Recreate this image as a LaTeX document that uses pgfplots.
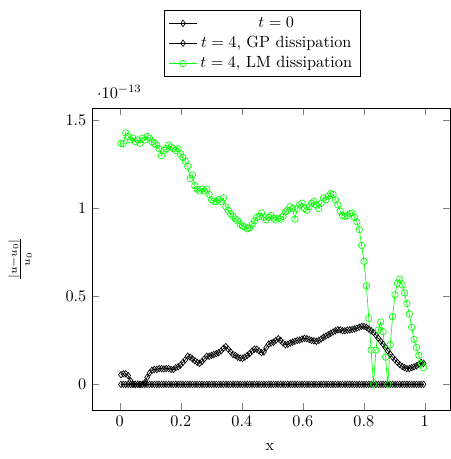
\documentclass[border=0pt]{standalone}
\usepackage{pgfplots}
\usepackage{pgfplotstable}
\pgfplotsset{compat=1.18}
\pgfplotstableread{
x y0 gp lm
0.0039 0 0.055 1.37
0.0117 0 0.060 1.37
0.0195 0 0.060 1.43
0.0273 0 0.050 1.41
0.0352 0 0.020 1.39
0.0430 0 0.000 1.40
0.0508 0 0.000 1.38
0.0586 0 0.000 1.39
0.0664 0 0.000 1.37
0.0742 0 0.000 1.40
0.0820 0 0.010 1.39
0.0898 0 0.040 1.41
0.0977 0 0.065 1.40
0.1055 0 0.080 1.38
0.1133 0 0.085 1.37
0.1211 0 0.085 1.36
0.1289 0 0.090 1.34
0.1367 0 0.090 1.30
0.1445 0 0.088 1.33
0.1523 0 0.090 1.34
0.1602 0 0.090 1.36
0.1680 0 0.085 1.35
0.1758 0 0.085 1.34
0.1836 0 0.095 1.33
0.1914 0 0.100 1.34
0.1992 0 0.110 1.31
0.2070 0 0.125 1.29
0.2148 0 0.140 1.27
0.2227 0 0.160 1.24
0.2305 0 0.155 1.17
0.2383 0 0.145 1.19
0.2461 0 0.135 1.13
0.2539 0 0.125 1.11
0.2617 0 0.120 1.10
0.2695 0 0.130 1.11
0.2773 0 0.145 1.10
0.2852 0 0.160 1.11
0.2930 0 0.160 1.08
0.3008 0 0.165 1.05
0.3086 0 0.170 1.04
0.3164 0 0.175 1.04
0.3242 0 0.180 1.05
0.3320 0 0.190 1.04
0.3398 0 0.205 1.06
0.3477 0 0.215 1.01
0.3555 0 0.200 0.99
0.3633 0 0.185 0.97
0.3711 0 0.170 0.955
0.3789 0 0.165 0.94
0.3867 0 0.155 0.93
0.3945 0 0.150 0.91
0.4023 0 0.148 0.90
0.4102 0 0.155 0.895
0.4180 0 0.165 0.885
0.4258 0 0.175 0.89
0.4336 0 0.190 0.91
0.4414 0 0.200 0.93
0.4492 0 0.200 0.95
0.4570 0 0.190 0.955
0.4648 0 0.180 0.975
0.4727 0 0.185 0.95
0.4805 0 0.210 0.935
0.4883 0 0.230 0.95
0.4961 0 0.235 0.96
0.5039 0 0.240 0.945
0.5117 0 0.250 0.935
0.5195 0 0.260 0.945
0.5273 0 0.250 0.94
0.5352 0 0.235 0.955
0.5430 0 0.225 0.98
0.5508 0 0.228 0.99
0.5586 0 0.235 1.01
0.5664 0 0.240 1.00
0.5742 0 0.245 0.94
0.5820 0 0.250 1.00
0.5898 0 0.252 1.02
0.5977 0 0.258 1.03
0.6055 0 0.262 1.00
0.6133 0 0.260 0.99
0.6211 0 0.255 1.01
0.6289 0 0.250 1.03
0.6367 0 0.248 1.04
0.6445 0 0.245 1.02
0.6523 0 0.250 1.00
0.6602 0 0.258 1.03
0.6680 0 0.268 1.06
0.6758 0 0.275 1.05
0.6836 0 0.282 1.07
0.6914 0 0.290 1.085
0.6992 0 0.298 1.08
0.7070 0 0.305 1.05
0.7148 0 0.310 1.02
0.7227 0 0.310 0.985
0.7305 0 0.305 0.96
0.7383 0 0.305 0.955
0.7461 0 0.308 0.96
0.7539 0 0.310 0.97
0.7617 0 0.312 0.975
0.7695 0 0.315 0.95
0.7773 0 0.320 0.925
0.7852 0 0.325 0.88
0.7930 0 0.330 0.79
0.8008 0 0.330 0.70
0.8086 0 0.325 0.56
0.8164 0 0.315 0.375
0.8242 0 0.305 0.195
0.8320 0 0.295 0.0
0.8398 0 0.280 0.195
0.8477 0 0.262 0.31
0.8555 0 0.245 0.355
0.8633 0 0.228 0.30
0.8711 0 0.210 0.155
0.8789 0 0.190 0.0
0.8867 0 0.172 0.225
0.8945 0 0.155 0.385
0.9023 0 0.140 0.51
0.9102 0 0.125 0.575
0.9180 0 0.112 0.598
0.9258 0 0.102 0.565
0.9336 0 0.095 0.52
0.9414 0 0.090 0.46
0.9492 0 0.090 0.40
0.9570 0 0.095 0.325
0.9648 0 0.100 0.255
0.9727 0 0.105 0.21
0.9805 0 0.115 0.165
0.9883 0 0.125 0.12
0.9961 0 0.120 0.095
}\datatable
\begin{document}
\begin{tikzpicture}
\begin{axis}[
  name=ax,
  scale only axis,
  width=221pt, height=186.4pt,
  xmin=-0.091, xmax=1.083,
  ymin=-0.146e-13, ymax=1.571e-13,
  xtick={0,0.2,0.4,0.6,0.8,1},
  ytick={0,0.5e-13,1e-13,1.5e-13},
  xlabel={x},
  ylabel={$\frac{|u-u_0|}{u_0}$},
  xlabel style={at={(axis description cs:0.497,0)}, anchor=center, yshift=-22.8pt},
  ylabel style={at={(axis description cs:-0.201,0.5)}, anchor=center},
  legend cell align=center,
  legend style={at={(axis description cs:0.475,1)}, anchor=south, yshift=19.1pt, draw=black, fill=white},
]
\addplot[black, mark=diamond] table[x=x, y expr=\thisrow{y0}*1e-13] {\datatable};
\addlegendentry{$t=0$}
\addplot[black, mark=diamond] table[x=x, y expr=\thisrow{gp}*1e-13] {\datatable};
\addlegendentry{$t=4$, GP dissipation}
\addplot[green, mark=o] table[x=x, y expr=\thisrow{lm}*1e-13] {\datatable};
\addlegendentry{$t=4$, LM dissipation}
\end{axis}
\path ([xshift=-56.8pt,yshift=-30.2pt]ax.south west) rectangle ([yshift=66.7pt]ax.north east);
\end{tikzpicture}
\end{document}
